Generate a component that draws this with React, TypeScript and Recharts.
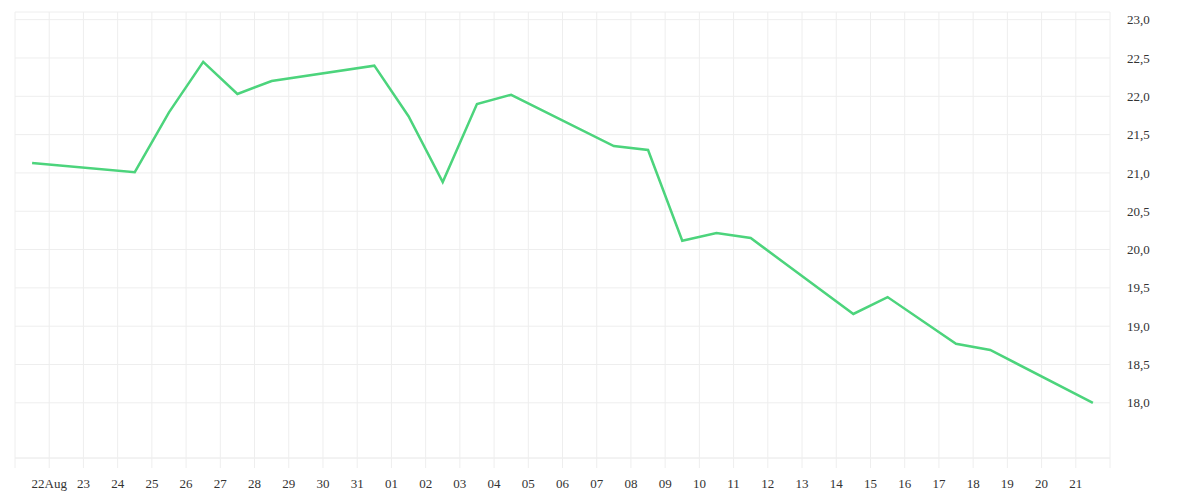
import { LineChart, Line, XAxis, YAxis, CartesianGrid } from "recharts";

// trading days (noon)
const dates = [
    "2021-08-21", "2021-08-24", "2021-08-25", "2021-08-26", "2021-08-27",
    "2021-08-28", "2021-08-31", "2021-09-01", "2021-09-02", "2021-09-03",
    "2021-09-04", "2021-09-07", "2021-09-08", "2021-09-09", "2021-09-10",
    "2021-09-11", "2021-09-14", "2021-09-15", "2021-09-17", "2021-09-18",
    "2021-09-21",
];
const values = [
    21.13, 21.01, 21.79, 22.45, 22.03,
    22.2, 22.4, 21.74, 20.88, 21.9,
    22.02, 21.35, 21.3, 20.115, 20.215,
    20.15, 19.16, 19.38, 18.77, 18.69,
    18.0,
];

// x ticks: one per day from Aug 21 to Sep 22
const tickLabels = [
    "", "22Aug", "23", "24", "25", "26", "27", "28", "29", "30", "31",
    "01", "02", "03", "04", "05", "06", "07", "08", "09", "10",
    "11", "12", "13", "14", "15", "16", "17", "18", "19", "20",
    "21", "",
];
const yTicks = [18, 18.5, 19, 19.5, 20, 20.5, 21, 21.5, 22, 22.5, 23];

const start = Date.UTC(2021, 7, 21);
const DAY = 86400000;

const data = dates.map((d, i) => ({
    t: (Date.parse(d + "T12:00:00Z") - start) / DAY,
    value: values[i],
}));
const xTicks = tickLabels.map((_, i) => i);

export default function App() {
    return (
        <LineChart
            width={1184}
            height={484}
            data={data}
            margin={{ top: 4, right: 0, left: 7, bottom: 0 }}
        >
            <CartesianGrid stroke="#eeeeee" />
            <XAxis
                dataKey="t"
                type="number"
                domain={[0, 32]}
                ticks={xTicks}
                interval={0}
                height={34}
                tickFormatter={(v: number) => tickLabels[v] ?? ""}
                axisLine={{ stroke: "#eeeeee" }}
                tickLine={{ stroke: "#eeeeee" }}
                tickSize={10}
                tickMargin={11}
                tick={{ fill: "#333", fontSize: 13 }}
            />
            <YAxis
                orientation="right"
                width={82}
                domain={[17.28, 23.1]}
                ticks={yTicks}
                allowDataOverflow
                axisLine={false}
                tickLine={false}
                tickSize={6}
                tickMargin={11}
                tickFormatter={(v: number) => v.toFixed(1).replace(".", ",")}
                tick={{ fill: "#333", fontSize: 13, textAnchor: "start" }}
            />
            <Line
                type="linear"
                dataKey="value"
                stroke="#4cd47c"
                strokeWidth={2.5}
                dot={false}
                activeDot={false}
                isAnimationActive={false}
            />
        </LineChart>
    );
}
